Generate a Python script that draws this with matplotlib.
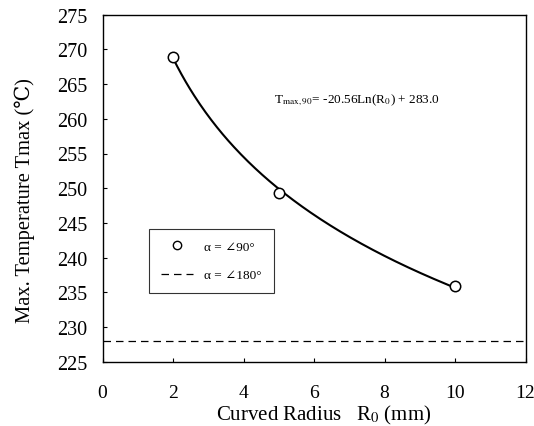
import numpy as np
import matplotlib
matplotlib.use("Agg")
import matplotlib.pyplot as plt
from matplotlib.lines import Line2D

radius = [2, 5, 10]
tmax_90 = [268.9, 249.3, 235.9]
tmax_180 = 228.0
fit_a, fit_b = -20.56, 283.0
xticks = [0, 2, 4, 6, 8, 10, 12]
yticks = [225, 230, 235, 240, 245, 250, 255, 260, 265, 270, 275]

plt.rcParams['font.family'] = ['Liberation Serif', 'DejaVu Serif']
plt.rcParams['mathtext.fontset'] = 'stix'

W, H = 534, 427
L, R, T, B = 102.5, 525.5, 15.7, 362.7
fig = plt.figure(figsize=(W/100, H/100), dpi=100)
ax = fig.add_axes([L/W, 1-B/H, (R-L)/W, (B-T)/H])

xs = np.linspace(radius[0], radius[-1], 200)
ax.plot(xs, fit_a*np.log(xs)+fit_b, color='black', lw=1.5)
ax.plot(radius, tmax_90, 'o', mfc='white', mec='black', ms=7.5, mew=1.1)
ax.axhline(tmax_180, color='black', lw=0.9, ls=(0, (6, 4)))

ax.set_xlim(0, 12)
ax.set_ylim(225, 275)
ax.set_xticks(xticks)
ax.set_yticks(yticks)
ax.tick_params(axis='x', direction='in', length=3, pad=16, labelsize=14)
ax.tick_params(axis='y', direction='in', length=3, pad=11, labelsize=14.5)
for s in ax.spines.values():
    s.set_linewidth(1.0)

ax.set_xlabel(r'Curved Radius   R$_0$ (mm)', fontsize=15)
ax.xaxis.set_label_coords((324 - L)/(R - L), (B - 427)/(B - T), transform=ax.transAxes)
ax.xaxis.label.set_va('bottom')
ax.set_ylabel('Max. Temperature Tmax (\u2103)', fontsize=14.8)
ax.yaxis.set_label_coords((35 - L)/(R - L), (B - 201)/(B - T), transform=ax.transAxes)

ax.text(4.87, 262.9, r'T$_{\rm max,90}$= -20.56Ln(R$_0$) + 283.0', fontsize=9.5, va='center')

handles = [Line2D([], [], ls='none', marker='o', mfc='white', mec='black', ms=6),
           Line2D([], [], color='black', lw=0.9, ls=(0, (6, 4)))]
leg = ax.legend(handles, ['\u03b1 = \u222090\u00b0', '\u03b1 = \u2220180\u00b0'],
                loc='upper left', bbox_to_anchor=((149-L)/(R-L), (B-230)/(B-T)),
                borderaxespad=0, frameon=True, fancybox=False, edgecolor='black',
                fontsize=9.5, handlelength=2.4, borderpad=0.9, labelspacing=1.2,
                handletextpad=0.9)
leg.get_frame().set_linewidth(0.8)

fig.savefig('out.png', dpi=100)
